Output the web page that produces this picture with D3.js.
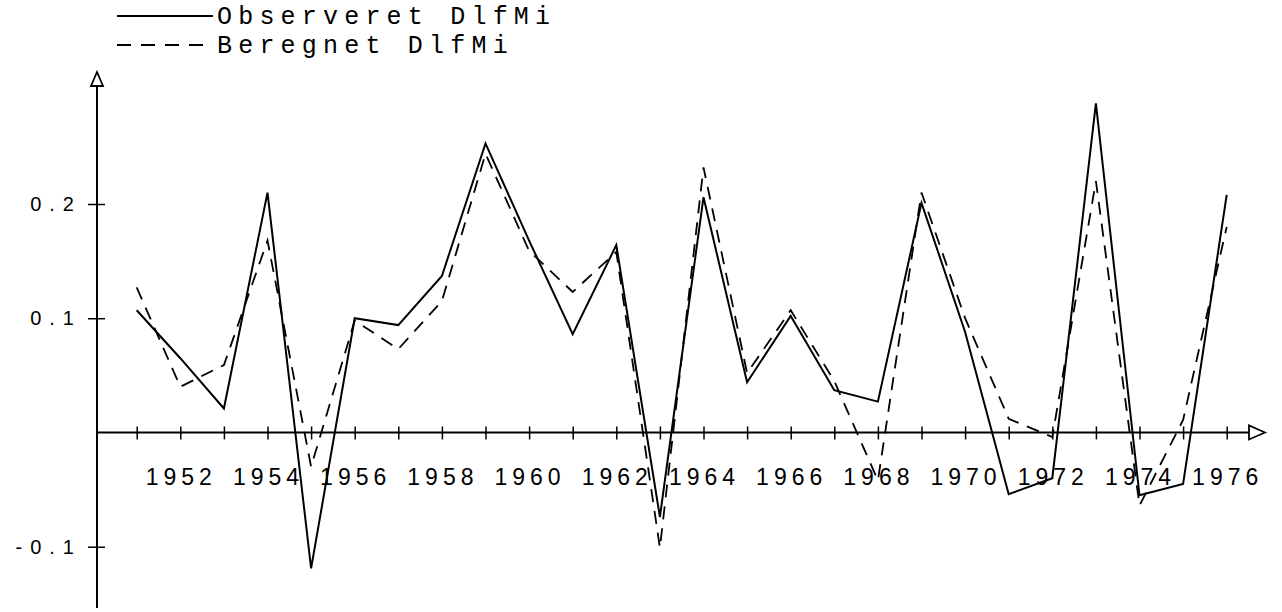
<html>
<head>
  <title>DlfMi</title>
  <script src='https://d3js.org/d3.v7.min.js'></script>
  <style>
    body { margin: 0; background: #fff; }
    .leg { font-family: 'Liberation Mono', 'Courier New', monospace; font-size: 25px; letter-spacing: 6.2px; fill: #000; }
    .xl { font-family: 'Liberation Sans', sans-serif; font-size: 23px; letter-spacing: 5px; fill: #000; }
    .yl { font-family: 'Liberation Sans', sans-serif; font-size: 20px; letter-spacing: 8px; fill: #000; }
  </style>
</head>
<body>
<script>
  // data
  var years = d3.range(1951, 1977);
  var observed = [0.107, 0.065, 0.021, 0.210, -0.119, 0.100, 0.094, 0.137, 0.253, 0.168,
                  0.086, 0.164, -0.074, 0.206, 0.044, 0.102, 0.037, 0.027, 0.201, 0.088,
                  -0.054, -0.040, 0.288, -0.055, -0.045, 0.208];
  var beregnet = [0.127, 0.040, 0.059, 0.168, -0.030, 0.098, 0.073, 0.115, 0.244, 0.159,
                  0.123, 0.158, -0.101, 0.232, 0.052, 0.107, 0.045, -0.042, 0.210, 0.100,
                  0.012, -0.004, 0.220, -0.064, 0.011, 0.180];
  var yearLabels = d3.range(1952, 1977, 2);
  var yTicks = [-0.1, 0.1, 0.2];
  var yTickLabels = ['-0.1', '0.1', '0.2'];
  var legendNames = ['Observeret DlfMi', 'Beregnet DlfMi'];

  var width = 1282, height = 612;

  var svg = d3.select('body').append('svg')
    .attr('width', width)
    .attr('height', height);

  var x = d3.scaleLinear().domain([1951, 1976]).range([136.7, 1226.7]);
  var y = d3.scaleLinear().domain([-0.1, 0.2]).range([546.7, 204]);
  var x0 = 97, y0 = y(0);

  // axes lines with hollow arrows
  svg.append('line').attr('x1', x0).attr('x2', x0).attr('y1', 86).attr('y2', 608)
    .attr('stroke', '#000').attr('stroke-width', 2);
  svg.append('path').attr('d', 'M' + x0 + ',72 L' + (x0 - 6) + ',86 L' + (x0 + 6) + ',86 Z')
    .attr('fill', '#fff').attr('stroke', '#000').attr('stroke-width', 1.8);
  svg.append('line').attr('x1', x0).attr('x2', 1249).attr('y1', y0).attr('y2', y0)
    .attr('stroke', '#000').attr('stroke-width', 2);
  svg.append('path').attr('d', 'M1265,' + y0 + ' L1249,' + (y0 - 7) + ' L1249,' + (y0 + 7) + ' Z')
    .attr('fill', '#fff').attr('stroke', '#000').attr('stroke-width', 1.8);

  // x ticks every year (cross ticks)
  var xAxis = svg.append('g').attr('transform', 'translate(0,' + y0 + ')')
    .call(d3.axisBottom(x).tickValues(years).tickSize(0).tickFormat(''));
  xAxis.select('.domain').remove();
  xAxis.selectAll('.tick line').attr('y1', -6).attr('y2', 7)
    .attr('stroke', '#000').attr('stroke-width', 1.5);

  // x labels
  svg.append('g').selectAll('text')
    .data(yearLabels)
    .enter()
    .append('text')
    .attr('class', 'xl')
    .attr('x', function(d) { return x(d) + 1; })
    .attr('y', 485)
    .attr('text-anchor', 'middle')
    .text(function(d) { return d; });

  // y ticks
  var yAxis = svg.append('g').attr('transform', 'translate(' + x0 + ',0)')
    .call(d3.axisLeft(y).tickValues(yTicks).tickSize(0).tickFormat(''));
  yAxis.select('.domain').remove();
  yAxis.selectAll('.tick line').attr('x1', -9).attr('x2', 8)
    .attr('stroke', '#000').attr('stroke-width', 1.5);

  svg.append('g').selectAll('text')
    .data(yTicks)
    .enter()
    .append('text')
    .attr('class', 'yl')
    .attr('x', 82)
    .attr('y', function(d) { return y(d) + 7; })
    .attr('text-anchor', 'end')
    .text(function(d, i) { return yTickLabels[i]; });

  // series
  var line = d3.line()
    .x(function(d, i) { return x(years[i]); })
    .y(function(d) { return y(d); });

  svg.append('path').datum(beregnet)
    .attr('d', line)
    .attr('fill', 'none')
    .attr('stroke', '#000')
    .attr('stroke-width', 1.8)
    .attr('stroke-dasharray', '13,9');

  svg.append('path').datum(observed)
    .attr('d', line)
    .attr('fill', 'none')
    .attr('stroke', '#000')
    .attr('stroke-width', 2)
    .attr('stroke-linejoin', 'miter');

  // legend
  var leg = svg.append('g');
  leg.append('line').attr('x1', 117).attr('x2', 213).attr('y1', 16).attr('y2', 16)
    .attr('stroke', '#000').attr('stroke-width', 2);
  leg.append('line').attr('x1', 117).attr('x2', 213).attr('y1', 45).attr('y2', 45)
    .attr('stroke', '#000').attr('stroke-width', 2).attr('stroke-dasharray', '14,10');
  leg.selectAll('text')
    .data(legendNames)
    .enter()
    .append('text')
    .attr('class', 'leg')
    .attr('x', 217)
    .attr('y', function(d, i) { return 24 + i * 29; })
    .text(function(d) { return d; });
</script>
</body>
</html>
